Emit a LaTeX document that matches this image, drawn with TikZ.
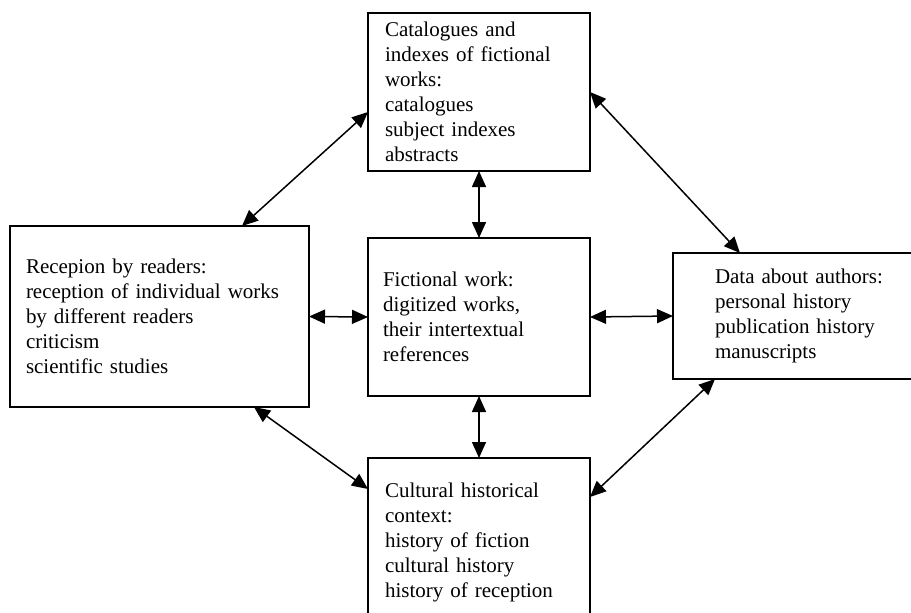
\documentclass[tikz,border=0pt]{standalone}
\usepackage{fontspec}
\setmainfont{Liberation Serif}
\usepackage{tikz}
\usetikzlibrary{arrows.meta,positioning}
\tikzset{font=\fontsize{21}{25}\selectfont}
\tikzstyle{box}=[draw,rectangle,align=left,outer sep=0pt,inner ysep=0pt,anchor=north west,line width=1.5pt]
\tikzset{every picture/.style={line width=1.5pt}}

\begin{document}
\begin{tikzpicture}
  [x=1pt,y=-1pt,>={Triangle[length=16pt,width=14pt]}]
\useasboundingbox (0,0) rectangle (911,613);
\node [box,inner xsep=17pt,text width=188pt,minimum height=158pt] (cat) at (368,13)
  {Catalogues and\\indexes of fictional\\works:\\catalogues\\subject indexes\\abstracts};
\node [box,inner xsep=16pt,text width=267pt,minimum height=181pt] (rec) at (10,226)
  {Recepion by readers:\\reception of individual works\\by different readers\\criticism\\scientific studies};
\node [box,inner xsep=15pt,text width=192pt,minimum height=158pt] (fic) at (368,238)
  {Fictional work:\\digitized works,\\their intertextual\\references};
\node [box,inner xsep=42pt,text width=215pt,minimum height=126pt] (aut) at (673,253)
  {Data about authors:\\personal history\\publication history\\manuscripts};
\node [box,inner xsep=17pt,text width=188pt,minimum height=168pt] (cul) at (368,458)
  {Cultural historical\\context:\\history of fiction\\cultural history\\history of reception};
\path[<->,line width=1.5pt]
([xshift=-67pt]rec.north east) edge ([yshift=-99pt]cat.north west)
([yshift=-79pt]cat.north east) edge ([xshift=67pt]aut.north west)
([xshift=-55pt]rec.south east) edge ([yshift=-31pt]cul.north west)
([xshift=42pt]aut.south west) edge ([yshift=-39pt]cul.north east)
(rec.east) edge (fic.west)
(fic.east) edge (aut.west)
(cat.south) edge (fic.north)
(fic.south) edge (cul.north);
\end{tikzpicture}
\end{document}
